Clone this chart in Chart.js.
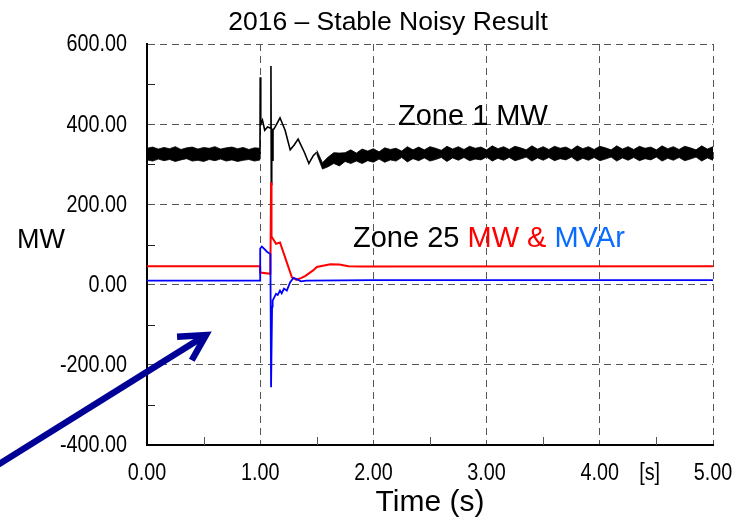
<!DOCTYPE html>
<html>
<head>
<meta charset="utf-8">
<title>2016 – Stable Noisy Result</title>
<script src="https://cdn.jsdelivr.net/npm/chart.js@4.4.1/dist/chart.umd.min.js"></script>
<style>
  html, body { margin: 0; padding: 0; background: #fff; }
  #chart { display: block; }
</style>
</head>
<body>
<canvas id="chart" width="750" height="519"></canvas>
<script>
// axis ticks
const timeTicks = [0, 1, 2, 3, 4, 5];
const timeMinor = [0.5, 1.5, 2.5, 3.5, 4.5];
const mwTicks = [-400, -200, 0, 200, 400, 600];
const mwMinor = [-300, -100, 100, 300, 500];

// Zone 1 MW, noise band before the fault (0.00 - 1.00 s, one sample every 0.05 s)
const bandStep = 0.05;
const zone1PreStart = 0;
const zone1PreUpper = [340, 343, 338, 342, 339, 344, 337, 341, 343, 338, 342, 340, 344, 338, 341, 343, 339, 342, 337, 341, 340];
const zone1PreLower = [311, 308, 313, 309, 312, 307, 311, 314, 308, 310, 307, 312, 309, 313, 308, 311, 307, 310, 312, 308, 311];

// Zone 1 MW, transient after the fault
const zone1TransTime = [0.998, 1.0, 1.005, 1.02, 1.04, 1.065, 1.093, 1.095, 1.098, 1.102, 1.108, 1.113, 1.13, 1.175, 1.22, 1.265, 1.30, 1.335, 1.39, 1.43, 1.47, 1.50];
const zone1TransMW = [326, 517, 400, 410, 385, 393, 390, 545, 250, 390, 310, 385, 392, 416, 385, 336, 348, 363, 330, 302, 322, 330];

// Zone 1 MW, noise band after the fault (1.50 - 5.00 s)
const zone1PostStart = 1.5;
const zone1PostUpper = [335, 304, 318, 329, 328, 329, 336, 328, 338, 333,
  339, 331, 341, 337, 340, 333, 344, 336, 343, 336, 344, 340, 335, 345, 338, 344, 337, 345, 340, 343,
  336, 346, 339, 344, 337, 345, 341, 336, 346, 338, 344, 337, 345, 340, 343, 336, 346, 339, 344, 337,
  345, 341, 336, 346, 338, 344, 337, 345, 340, 343, 336, 346, 339, 344, 337, 345, 341, 336, 346, 338,
  344];
const zone1PostLower = [325, 288, 294, 302, 296, 307, 302, 308, 302, 309,
  305, 313, 305, 311, 308, 317, 306, 314, 309, 316, 308, 312, 317, 307, 316, 310, 317, 309, 313, 311,
  318, 308, 315, 310, 317, 309, 313, 318, 308, 316, 310, 317, 309, 314, 311, 318, 308, 315, 310, 317,
  309, 313, 318, 308, 316, 310, 317, 309, 314, 311, 318, 308, 315, 310, 317, 309, 313, 318, 308, 316,
  310];

// Zone 25 MW
const zone25MWTime = [0, 0.999, 1.0, 1.09, 1.095, 1.096, 1.10, 1.14, 1.175, 1.22, 1.28, 1.32, 1.36, 1.40, 1.47, 1.50, 1.62, 1.70, 1.78, 1.90, 5.0];
const zone25MW = [46, 46, 30, 27, 27, 255, 120, 102, 105, 68, 18, 12, 16, 22, 36, 44, 51, 50, 46, 45, 46];

// Zone 25 MVAr
const zone25MvarTime = [0, 0.999, 1.0, 1.015, 1.04, 1.06, 1.09, 1.095, 1.096, 1.105, 1.11, 1.14, 1.155, 1.175, 1.19, 1.21, 1.235, 1.265, 1.295, 1.32, 1.36, 1.41, 2.0, 5.0];
const zone25Mvar = [10, 10, 90, 95, 88, 82, 76, 76, -256, -55, -40, -23, -26, -15, -22, -10, -15, 6, 17, 14, 8, 10, 11, 11];

const pts = (xs, ys) => xs.map((x, i) => ({ x: x, y: ys[i] }));
const bandPts = (start, ys) => ys.map((y, i) => ({ x: +(start + i * bandStep).toFixed(3), y: y }));

const textFont = '"Liberation Sans", Arial, sans-serif';
const tickFont = '23px ' + textFont;
const narrow = 0.86;   // tick labels in the original are a condensed face

function narrowText(ctx, s, x, y) {
  ctx.save();
  ctx.translate(x, y);
  ctx.scale(narrow, 1);
  ctx.fillText(s, 0, 0);
  ctx.restore();
}

// tick labels, text, arrow and minor ticks
const overlay = {
  id: 'overlay',
  beforeDatasetsDraw(chart) {
    const ctx = chart.ctx;
    const a = chart.chartArea;
    const xs = chart.scales.x, ys = chart.scales.y;
    ctx.save();
    ctx.lineWidth = 1;
    ctx.strokeStyle = '#222';
    mwMinor.forEach(v => {
      const y = Math.round(ys.getPixelForValue(v)) + 0.5;
      ctx.beginPath(); ctx.moveTo(a.left, y); ctx.lineTo(a.left + 8, y); ctx.stroke();
    });
    ctx.strokeStyle = '#555';
    timeMinor.forEach(v => {
      const x = Math.round(xs.getPixelForValue(v)) + 0.5;
      ctx.beginPath(); ctx.moveTo(x, a.bottom); ctx.lineTo(x, a.bottom - 8); ctx.stroke();
    });
    ctx.restore();
  },
  afterDraw(chart) {
    const ctx = chart.ctx;
    const xs = chart.scales.x, ys = chart.scales.y;
    const a = chart.chartArea;
    ctx.save();
    ctx.fillStyle = '#000';

    // tick labels
    ctx.font = tickFont;
    ctx.textAlign = 'right';
    ctx.textBaseline = 'middle';
    ys.ticks.forEach(t => narrowText(ctx, t.value.toFixed(2), a.left - 20, ys.getPixelForValue(t.value) + 1));
    ctx.textAlign = 'center';
    ctx.textBaseline = 'alphabetic';
    xs.ticks.forEach(t => narrowText(ctx, t.value.toFixed(2), xs.getPixelForValue(t.value), 480));
    narrowText(ctx, '[s]', xs.getPixelForValue(4.44), 480);

    ctx.font = '26.5px ' + textFont;
    ctx.fillText('2016 – Stable Noisy Result', 388, 30);
    ctx.font = '30px ' + textFont;
    ctx.fillText('Time (s)', 430, 511);

    ctx.textAlign = 'left';
    ctx.font = '27px ' + textFont;
    ctx.fillText('MW', 17, 248);

    ctx.font = '29px ' + textFont;
    ctx.fillText('Zone 1 MW', 398, 125);

    let x = 353;
    [['Zone 25 ', '#000'], ['MW & ', '#ff0000'], ['MVAr', '#0a6cff']].forEach(([s, c]) => {
      ctx.fillStyle = c;
      ctx.fillText(s, x, 247);
      x += ctx.measureText(s).width;
    });

    // arrow pointing into the plot
    const tip = [206, 335], tail = [-20, 476];
    const ang = Math.atan2(tail[1] - tip[1], tail[0] - tip[0]);
    ctx.strokeStyle = '#000096';
    ctx.lineWidth = 6.5;
    ctx.lineCap = 'butt';
    ctx.beginPath(); ctx.moveTo(tail[0], tail[1]); ctx.lineTo(tip[0], tip[1]); ctx.stroke();
    ctx.lineJoin = 'miter';
    ctx.beginPath();
    ctx.moveTo(tip[0] + 29 * Math.cos(ang + 0.5), tip[1] + 29 * Math.sin(ang + 0.5));
    ctx.lineTo(tip[0], tip[1]);
    ctx.lineTo(tip[0] + 29 * Math.cos(ang - 0.5), tip[1] + 29 * Math.sin(ang - 0.5));
    ctx.stroke();
    ctx.restore();
  }
};

const line = (data, color, width) => ({
  data: data, borderColor: color, borderWidth: width, pointRadius: 0, fill: false, tension: 0
});

new Chart(document.getElementById('chart'), {
  type: 'line',
  data: {
    datasets: [
      line(pts(zone25MvarTime, zone25Mvar), '#0000ff', 1.8),
      line(pts(zone25MWTime, zone25MW), '#ff0000', 2),
      line(pts(zone1TransTime, zone1TransMW), '#000', 1.6),
      line(bandPts(zone1PreStart, zone1PreLower), '#000', 0.8),
      Object.assign(line(bandPts(zone1PreStart, zone1PreUpper), '#000', 0.8), { fill: '-1', backgroundColor: '#000' }),
      line(bandPts(zone1PostStart, zone1PostLower), '#000', 0.8),
      Object.assign(line(bandPts(zone1PostStart, zone1PostUpper), '#000', 0.8), { fill: '-1', backgroundColor: '#000' })
    ]
  },
  options: {
    responsive: false,
    animation: false,
    devicePixelRatio: 1,
    layout: { padding: { top: 44, right: 37, bottom: 0, left: 0 } },
    plugins: { legend: { display: false }, tooltip: { enabled: false }, title: { display: false } },
    scales: {
      x: {
        type: 'linear', min: 0, max: 5,
        afterBuildTicks: s => { s.ticks = timeTicks.map(v => ({ value: v })); },
        afterFit: s => { s.height = 74; },
        ticks: { display: false },
        grid: { color: '#555', lineWidth: 1, drawTicks: false },
        border: { color: '#000', width: 2, dash: [7, 5] }
      },
      y: {
        type: 'linear', min: -400, max: 600,
        afterBuildTicks: s => { s.ticks = mwTicks.map(v => ({ value: v })); },
        afterFit: s => { s.width = 147; },
        ticks: { display: false },
        grid: { color: '#555', lineWidth: 1, drawTicks: false },
        border: { color: '#000', width: 2, dash: [7, 5] }
      }
    }
  },
  plugins: [overlay]
});
</script>
</body>
</html>
